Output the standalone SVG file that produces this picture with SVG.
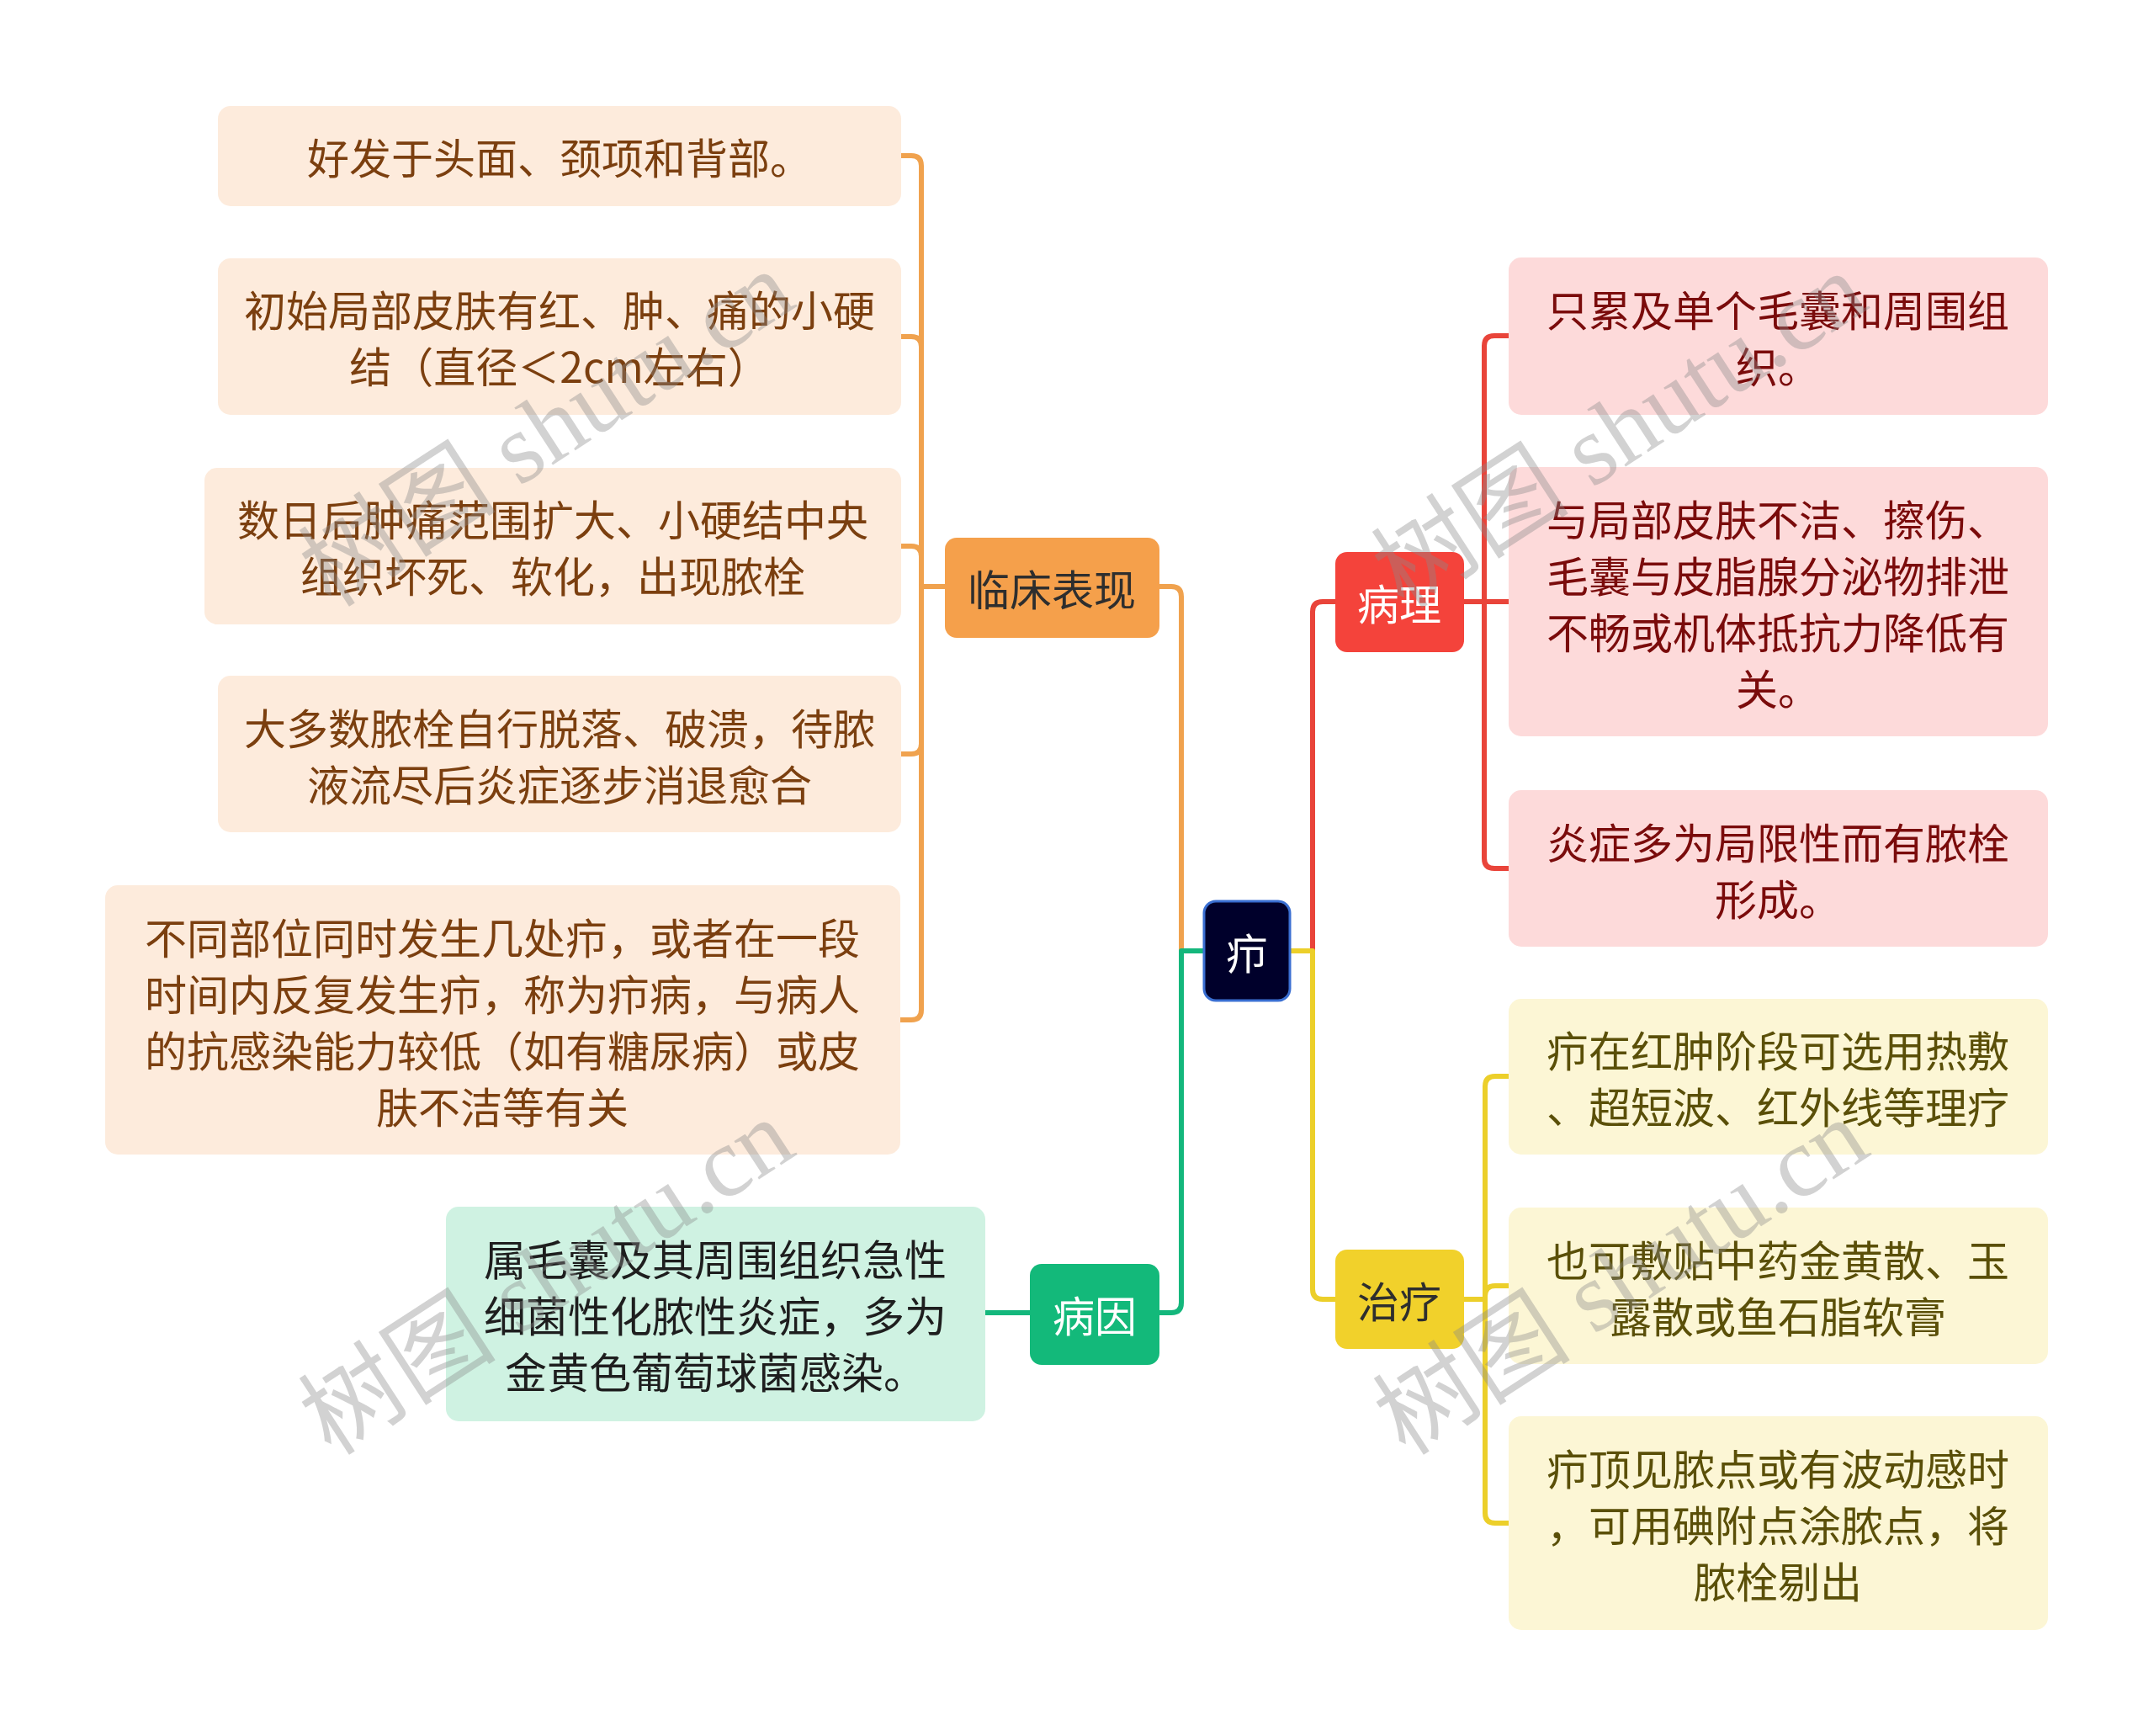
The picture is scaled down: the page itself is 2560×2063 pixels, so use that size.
<svg xmlns="http://www.w3.org/2000/svg" width="2560" height="2063" viewBox="0 0 2560 2063">
<style>
text{font-family:"Noto Sans CJK SC","Noto Sans",sans-serif;font-size:50px;text-anchor:middle;dominant-baseline:central}
.c{fill:none;stroke-width:6;stroke-linecap:butt;stroke-linejoin:round}
.or{stroke:#F0A24E}.rd{stroke:#E9443A}.gr{stroke:#14B77C}.ye{stroke:#ECCF2A}
.pe{fill:#FDEBDC}.pk{fill:#FDDADA}.mi{fill:#CFF2E2}.yb{fill:#FCF6D5}
.tpe{fill:#7B3F0F}.tpk{fill:#7A0B0B}.tmi{fill:#1E1E1E}.tyb{fill:#5A4F08}
.wm{font-family:"Liberation Serif","Noto Sans CJK SC",serif;font-size:118px;fill:#8a8a8a;opacity:0.38}
</style>
<rect width="2560" height="2063" fill="#FFFFFF"/>
<g id="connectors">
<path class="c or" d="M1431,1130 H1404 V709 Q1404,697 1392,697 H1378"/>
<path class="c or" d="M1123,697 H1095 V197 Q1095,185 1083,185 H1071"/>
<path class="c or" d="M1123,697 H1095 V412 Q1095,400 1083,400 H1071"/>
<path class="c or" d="M1123,697 H1095 V661 Q1095,649 1083,649 H1071"/>
<path class="c or" d="M1123,697 H1095 V884 Q1095,896 1083,896 H1071"/>
<path class="c or" d="M1123,697 H1095 V1200 Q1095,1212 1083,1212 H1070"/>
<path class="c gr" d="M1431,1130 H1404 V1548 Q1404,1560 1392,1560 H1378"/>
<path class="c gr" d="M1224,1560 H1171"/>
<path class="c rd" d="M1533,1130 H1560 V727 Q1560,715 1572,715 H1587"/>
<path class="c rd" d="M1740,715 H1764 V411 Q1764,399 1776,399 H1793"/>
<path class="c rd" d="M1740,715 H1793"/>
<path class="c rd" d="M1740,715 H1764 V1020 Q1764,1032 1776,1032 H1793"/>
<path class="c ye" d="M1533,1130 H1560 V1532 Q1560,1544 1572,1544 H1587"/>
<path class="c ye" d="M1740,1544 H1765 V1291 Q1765,1279 1777,1279 H1793"/>
<path class="c ye" d="M1740,1544 H1765 V1540 Q1765,1528 1777,1528 H1793"/>
<path class="c ye" d="M1740,1544 H1765 V1798 Q1765,1810 1777,1810 H1793"/>
</g>
<g id="root">
<rect x="1431" y="1071" width="102" height="118" rx="14" fill="#00002B" stroke="#3A6FD2" stroke-width="3"/>
<text x="1482" y="1130" fill="#FFFFFF">疖</text>
</g>
<g id="b-linchuang">
<rect x="1123" y="639" width="255" height="119" rx="14" fill="#F5A04B"/>
<text x="1250" y="698" fill="#2E2E2E">临床表现</text>
</g>
<g id="b-bingli">
<rect x="1587" y="656" width="153" height="119" rx="14" fill="#F4433B"/>
<text x="1663" y="715" fill="#FFFFFF">病理</text>
</g>
<g id="b-bingyin">
<rect x="1224" y="1502" width="154" height="120" rx="14" fill="#13B97A"/>
<text x="1301" y="1561" fill="#FFFFFF">病因</text>
</g>
<g id="b-zhiliao">
<rect x="1587" y="1485" width="153" height="118" rx="14" fill="#F1D12B"/>
<text x="1663" y="1544" fill="#2E2E2E">治疗</text>
</g>
<g id="l1">
<rect class="pe" x="259" y="126" width="812" height="119" rx="15"/>
<text class="tpe" x="665" y="185">好发于头面、颈项和背部。</text>
</g>
<g id="l2">
<rect class="pe" x="259" y="307" width="812" height="186" rx="15"/>
<text class="tpe" x="665" y="366">初始局部皮肤有红、肿、痛的小硬</text>
<text class="tpe" x="665" y="433">结（直径＜2cm左右）</text>
</g>
<g id="l3">
<rect class="pe" x="243" y="556" width="828" height="186" rx="15"/>
<text class="tpe" x="657" y="615">数日后肿痛范围扩大、小硬结中央</text>
<text class="tpe" x="657" y="682">组织坏死、软化，出现脓栓</text>
</g>
<g id="l4">
<rect class="pe" x="259" y="803" width="812" height="186" rx="15"/>
<text class="tpe" x="665" y="863">大多数脓栓自行脱落、破溃，待脓</text>
<text class="tpe" x="665" y="930">液流尽后炎症逐步消退愈合</text>
</g>
<g id="l5">
<rect class="pe" x="125" y="1052" width="945" height="320" rx="15"/>
<text class="tpe" x="597" y="1112">不同部位同时发生几处疖，或者在一段</text>
<text class="tpe" x="597" y="1179">时间内反复发生疖，称为疖病，与病人</text>
<text class="tpe" x="597" y="1246">的抗感染能力较低（如有糖尿病）或皮</text>
<text class="tpe" x="597" y="1313">肤不洁等有关</text>
</g>
<g id="m1">
<rect class="mi" x="530" y="1434" width="641" height="255" rx="15"/>
<text class="tmi" x="850" y="1494">属毛囊及其周围组织急性</text>
<text class="tmi" x="850" y="1561">细菌性化脓性炎症，多为</text>
<text class="tmi" x="850" y="1628">金黄色葡萄球菌感染。</text>
</g>
<g id="r1">
<rect class="pk" x="1793" y="306" width="641" height="187" rx="15"/>
<text class="tpk" x="2113" y="366">只累及单个毛囊和周围组</text>
<text class="tpk" x="2113" y="433">织。</text>
</g>
<g id="r2">
<rect class="pk" x="1793" y="555" width="641" height="320" rx="15"/>
<text class="tpk" x="2113" y="615">与局部皮肤不洁、擦伤、</text>
<text class="tpk" x="2113" y="682">毛囊与皮脂腺分泌物排泄</text>
<text class="tpk" x="2113" y="749">不畅或机体抵抗力降低有</text>
<text class="tpk" x="2113" y="816">关。</text>
</g>
<g id="r3">
<rect class="pk" x="1793" y="939" width="641" height="186" rx="15"/>
<text class="tpk" x="2113" y="999">炎症多为局限性而有脓栓</text>
<text class="tpk" x="2113" y="1066">形成。</text>
</g>
<g id="y1">
<rect class="yb" x="1793" y="1187" width="641" height="185" rx="15"/>
<text class="tyb" x="2113" y="1246">疖在红肿阶段可选用热敷</text>
<text class="tyb" x="2113" y="1313">、超短波、红外线等理疗</text>
</g>
<g id="y2">
<rect class="yb" x="1793" y="1435" width="641" height="186" rx="15"/>
<text class="tyb" x="2113" y="1495">也可敷贴中药金黄散、玉</text>
<text class="tyb" x="2113" y="1562">露散或鱼石脂软膏</text>
</g>
<g id="y3">
<rect class="yb" x="1793" y="1683" width="641" height="254" rx="15"/>
<text class="tyb" x="2113" y="1743">疖顶见脓点或有波动感时</text>
<text class="tyb" x="2113" y="1810">，可用碘附点涂脓点，将</text>
<text class="tyb" x="2113" y="1877">脓栓剔出</text>
</g>
<g id="watermarks">
<text class="wm" transform="translate(650,510) rotate(-33)">树图 shutu.cn</text>
<text class="wm" transform="translate(1925,512) rotate(-33)">树图 shutu.cn</text>
<text class="wm" transform="translate(650,1518) rotate(-33)">树图 shutu.cn</text>
<text class="wm" transform="translate(1927,1518) rotate(-33)">树图 shutu.cn</text>
</g>
</svg>
